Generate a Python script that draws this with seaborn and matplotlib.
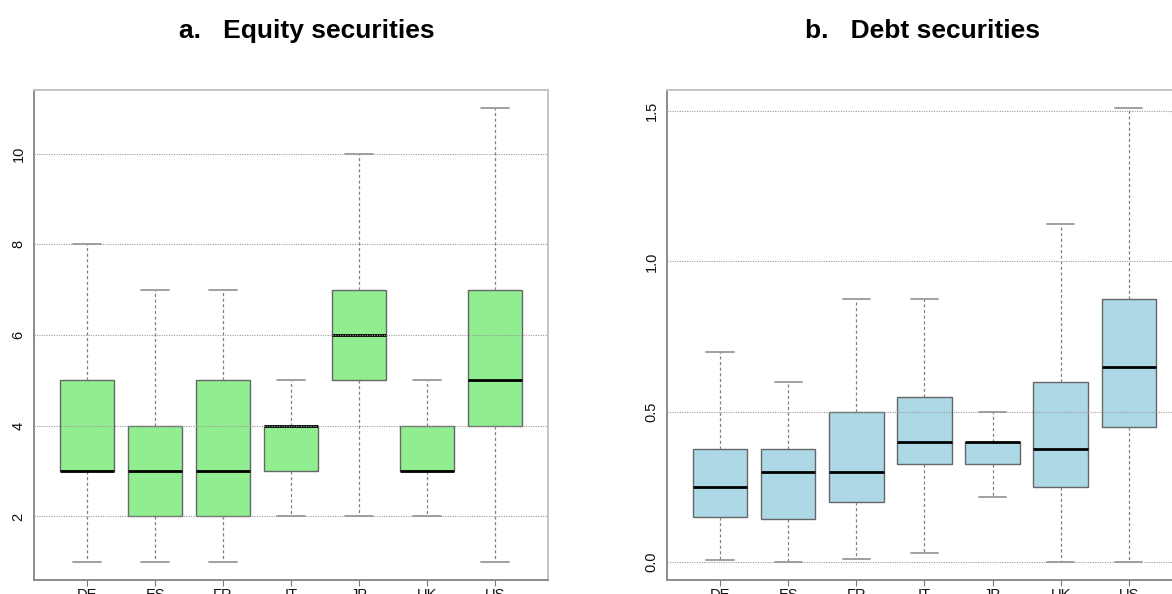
import numpy as np
import pandas as pd
import matplotlib
matplotlib.use("Agg")
import matplotlib.pyplot as plt
import seaborn as sns

# Countries on the x axis
countries = ["DE", "ES", "FR", "IT", "JP", "UK", "US"]

# Equity securities: five-number summaries per country
eq_min = [1, 1, 1, 2, 2, 2, 1]
eq_q1 = [3, 2, 2, 3, 5, 3, 4]
eq_med = [3, 3, 3, 4, 6, 3, 5]
eq_q3 = [5, 4, 5, 4, 7, 4, 7]
eq_max = [8, 7, 7, 5, 10, 5, 11]

# Debt securities: five-number summaries per country
dt_min = [0.005, 0.0, 0.01, 0.03, 0.215, 0.0, 0.0]
dt_q1 = [0.15, 0.143, 0.20, 0.325, 0.325, 0.25, 0.45]
dt_med = [0.25, 0.30, 0.30, 0.40, 0.40, 0.375, 0.65]
dt_q3 = [0.375, 0.375, 0.50, 0.55, 0.40, 0.60, 0.875]
dt_max = [0.70, 0.60, 0.875, 0.875, 0.50, 1.125, 1.51]

eq_ticks = [2, 4, 6, 8, 10]
dt_ticks = [0.0, 0.5, 1.0, 1.5]
dt_ticklabels = ["0.0", "0.5", "1.0", "1.5"]


def long_frame(mins, q1s, meds, q3s, maxs):
    # Five values per country reproduce the quartiles exactly and the
    # whiskers (0-100 percentiles) reach the extremes.
    rows = []
    for c, a, b, m, d, e in zip(countries, mins, q1s, meds, q3s, maxs):
        for v in (a, b, m, d, e):
            rows.append({"country": c, "value": v})
    return pd.DataFrame(rows)


equity = long_frame(eq_min, eq_q1, eq_med, eq_q3, eq_max)
debt = long_frame(dt_min, dt_q1, dt_med, dt_q3, dt_max)

sns.set_style("white")
plt.rcParams["font.family"] = ["Liberation Sans", "DejaVu Sans"]
plt.rcParams["text.color"] = "black"

fig = plt.figure(figsize=(11.72, 5.94), dpi=100)
ax1 = fig.add_axes([0.0290, 0.02357, 0.4386, 0.8249])
ax2 = fig.add_axes([0.5691, 0.02357, 0.4394, 0.8249])


def draw(ax, df, color, ticks, ticklabels, ylim):
    sns.boxplot(
        data=df, x="country", y="value", order=countries, ax=ax,
        color=color, saturation=1, width=0.8, whis=(0, 100),
        linecolor="#666666", linewidth=1.0, showfliers=False,
        medianprops=dict(color="black", linewidth=2.0),
        whiskerprops=dict(color="#808080", linewidth=0.9, linestyle=(0, (2.5, 2))),
        capprops=dict(color="#999999", linewidth=1.3),
    )
    ax.set_xlim(-0.78, 6.78)
    ax.set_ylim(*ylim)
    ax.set_yticks(ticks)
    ax.set_yticklabels(ticklabels, rotation=90, va="center")
    ax.set_xlabel("")
    ax.set_ylabel("")
    ax.set_axisbelow(False)
    ax.yaxis.grid(True, color="#9a9a9a", linestyle=(0, (1, 1.2)), linewidth=0.8)
    ax.xaxis.grid(False)
    ax.tick_params(axis="y", length=0, pad=6, labelsize=10.5, labelcolor="#111111")
    ax.tick_params(axis="x", length=4, width=0.8, color="#777777", pad=1.5,
                   labelsize=10.5, labelcolor="#111111", bottom=True)
    for side in ("left", "bottom"):
        ax.spines[side].set_color("#8c8c8c")
        ax.spines[side].set_linewidth(1.4)
    for side in ("top", "right"):
        ax.spines[side].set_color("#c4c4c4")
        ax.spines[side].set_linewidth(1.4)


draw(ax1, equity, "#90EE90", eq_ticks, [str(t) for t in eq_ticks], (0.6, 11.4))
draw(ax2, debt, "#ADD8E6", dt_ticks, dt_ticklabels, (-0.0604, 1.5704))

fig.text(0.2619, 0.947, "a.   Equity securities", ha="center", va="center",
         fontsize=19, fontweight="bold", color="black")
fig.text(0.7867, 0.947, "b.   Debt securities", ha="center", va="center",
         fontsize=19, fontweight="bold", color="black")

fig.savefig("out.png", dpi=100, facecolor="white")
